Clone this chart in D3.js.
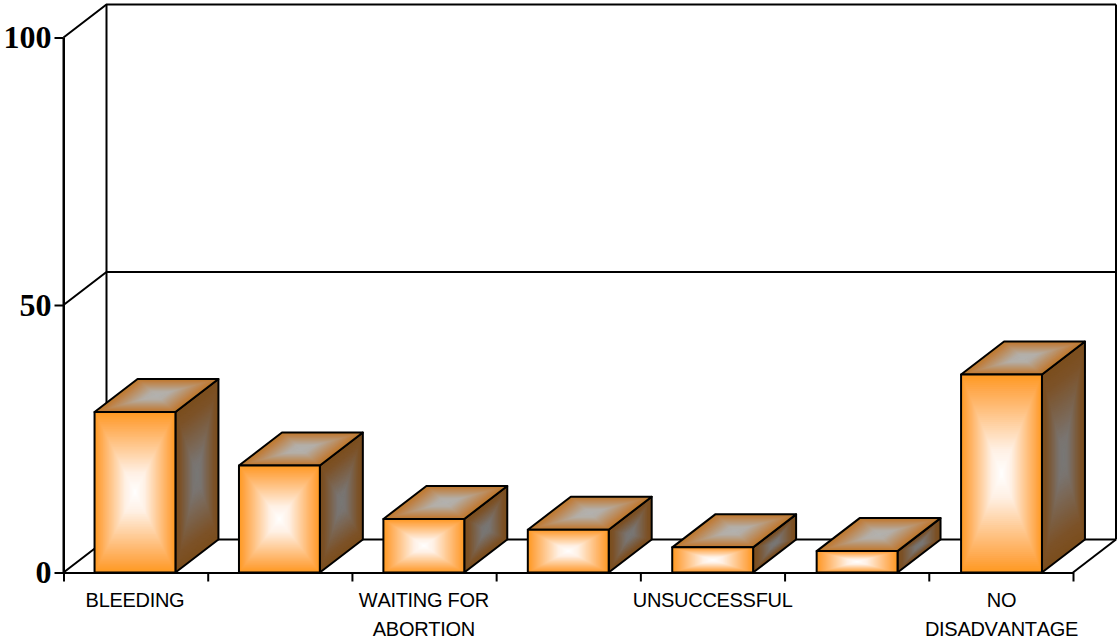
<!DOCTYPE html>
<html>
<head>
<meta charset="utf-8">
<script src="https://cdn.jsdelivr.net/npm/d3@7"></script>
<style>
html, body { margin: 0; padding: 0; background: #fff; }
svg { display: block; }
.cat { font-family: "Liberation Sans", Arial, sans-serif; font-size: 20px; letter-spacing: -0.3px; font-kerning: none; fill: #000; }
.num text { font-family: "Liberation Serif", "Times New Roman", serif; font-size: 32px; font-weight: bold; fill: #000; }
</style>
</head>
<body>
<div id="chart"></div>
<script>
// only every other category carries a printed label
var categories = ["BLEEDING", "", "WAITING FOR|ABORTION", "", "UNSUCCESSFUL", "", "NO|DISADVANTAGE"];
var values = [30, 20, 10, 8, 4.7, 4, 37];
var yTicks = [0, 50, 100];

var width = 1117, height = 641;
var plot = {left: 63.5, right: 1073, bottom: 572.5, top: 37.5};
var depth = {x: 43, y: -33};

var svg = d3.select("#chart").append("svg")
    .attr("width", width)
    .attr("height", height);

var x = d3.scaleBand()
    .domain(d3.range(categories.length))
    .range([plot.left, plot.right])
    .paddingInner(0.44)
    .paddingOuter(0.215);

// separate scale for the tick marks, they sit between the bars
var edge = d3.scaleLinear()
    .domain([0, categories.length])
    .range([plot.left, plot.right]);

var y = d3.scaleLinear()
    .domain([0, 100])
    .range([plot.bottom, plot.top]);

function lineOf(a, b, c) {
    return d3.line()(c ? [a, b, c] : [a, b]);
}

// walls and floor
var walls = svg.append("g")
    .attr("fill", "none")
    .attr("stroke", "#000")
    .attr("stroke-width", 2);

yTicks.forEach(function (d) {
    var fy = y(d), by = fy + depth.y;
    walls.append("path").attr("d", lineOf([plot.left, fy], [plot.left + depth.x, by], [plot.right + depth.x, by]));
});
walls.append("path").attr("d", lineOf([plot.left, y(0)], [plot.left, y(100)]));
walls.append("path").attr("d", lineOf([plot.left + depth.x, y(0) + depth.y], [plot.left + depth.x, y(100) + depth.y]));
walls.append("path").attr("d", lineOf([plot.right + depth.x, y(0) + depth.y], [plot.right + depth.x, y(100) + depth.y]));
walls.append("path").attr("d", lineOf([plot.right, y(0)], [plot.right + depth.x, y(0) + depth.y]));

// shaded face: nested polygons shrinking towards the centre
function face(g, pts, colour) {
    var cx = d3.mean(pts, function (p) { return p[0]; });
    var cy = d3.mean(pts, function (p) { return p[1]; });
    var steps = d3.range(0, 1, 1 / 48);
    g.selectAll(null)
        .data(steps)
        .enter().append("polygon")
        .attr("points", function (t) {
            return pts.map(function (p) {
                return [cx + (p[0] - cx) * (1 - t), cy + (p[1] - cy) * (1 - t)].join(",");
            }).join(" ");
        })
        .attr("fill", function (t) { return colour(t); });
    g.append("polygon")
        .attr("points", pts.map(function (p) { return p.join(","); }).join(" "))
        .attr("fill", "none")
        .attr("stroke", "#000")
        .attr("stroke-width", 2)
        .attr("stroke-linejoin", "round");
}

var frontColour = d3.scaleLinear()
    .domain([0, 0.12, 0.75, 1])
    .range(["#ff9a22", "#ffa545", "#fff0e4", "#ffffff"]);
var topColour = d3.scaleLinear()
    .domain([0, 0.15, 0.75, 1])
    .range(["#bd7a2c", "#bf8042", "#b4aea6", "#b2b2b0"]);
var sideColour = d3.scaleLinear()
    .domain([0, 0.2, 0.8, 1])
    .range(["#7b4d1c", "#7c5228", "#7a7470", "#787876"]);

values.forEach(function (v, i) {
    var x0 = x(i), x1 = x(i) + x.bandwidth();
    var y0 = y(0), y1 = y(v);
    var dx = depth.x, dy = depth.y;
    var bar = svg.append("g").attr("class", "bar");
    face(bar.append("g"), [[x1, y1], [x1 + dx, y1 + dy], [x1 + dx, y0 + dy], [x1, y0]], sideColour);
    face(bar.append("g"), [[x0, y1], [x0 + dx, y1 + dy], [x1 + dx, y1 + dy], [x1, y1]], topColour);
    face(bar.append("g"), [[x0, y1], [x1, y1], [x1, y0], [x0, y0]], frontColour);
});

// axes
var yAxis = svg.append("g")
    .attr("class", "num")
    .attr("transform", "translate(" + plot.left + ",0)")
    .call(d3.axisLeft(y).tickValues(yTicks).tickSize(9).tickSizeOuter(0).tickPadding(3).tickFormat(d3.format("d")));
yAxis.select(".domain").attr("stroke-width", 2);
yAxis.selectAll(".tick line").attr("stroke-width", 2);
yAxis.selectAll(".tick text").attr("dy", "0.32em");

var xAxis = svg.append("g")
    .attr("transform", "translate(0," + plot.bottom + ")")
    .call(d3.axisBottom(edge).ticks(categories.length).tickSize(9).tickSizeOuter(0).tickFormat(""));
xAxis.select(".domain").attr("stroke-width", 2);
xAxis.selectAll(".tick line").attr("stroke-width", 2);

// category labels, "|" breaks the line
svg.selectAll(".cat")
    .data(categories)
    .enter().append("text")
    .attr("class", "cat")
    .attr("text-anchor", "middle")
    .attr("y", 607)
    .each(function (d, i) {
        d3.select(this).selectAll("tspan")
            .data(d.split("|"))
            .enter().append("tspan")
            .attr("x", x(i) + x.bandwidth() / 2)
            .attr("dy", function (s, j) { return j ? 29 : 0; })
            .text(function (s) { return s; });
    });
</script>
</body>
</html>
